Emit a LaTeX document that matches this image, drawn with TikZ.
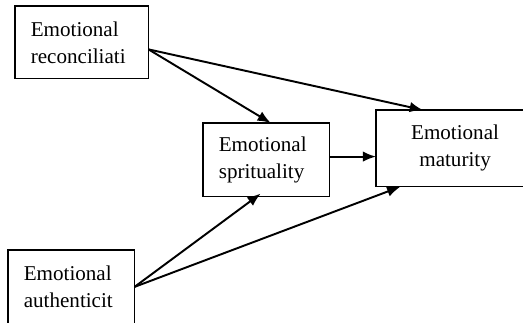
\documentclass[tikz,border=0pt]{standalone}
\usepackage{fontspec}
\setmainfont{Liberation Serif}
\usetikzlibrary{arrows.meta}
\tikzset{varbox/.style={
		draw, line width=0.75pt, anchor=north west, outer sep=0pt,
		inner xsep=9pt, inner ysep=0pt, align=left,
		font=\fontsize{12}{15.3}\selectfont}
}
\tikzset{path link/.style={
		line width=1.1pt, -{Latex[length=7.5pt,width=6pt]}}
}
\begin{document}
\begin{tikzpicture}[x=0.02cm, y=-0.02cm]
  \clip (0,0) rectangle (523,322);

  \node[varbox, text width=58pt, minimum height=41.4pt] (rec) at (15,6) {Emotional\\reconciliati};
  \node[varbox, text width=54pt, minimum height=42pt] (spi) at (203,123) {Emotional\\sprituality};
  \node[varbox, text width=72pt, minimum height=43.7pt, align=center] (mat) at (376,110) {Emotional\\maturity};
  \node[varbox, text width=54pt, minimum height=42pt] (aut) at (8,250) {Emotional\\authenticit};

  \draw[path link] (rec.-6) -- (spi.83);
  \draw[path link] (rec.-6) -- (mat.130);
  \draw[path link] (spi.3.6) -- (spi.3.6 -| mat.west);
  \draw[path link, shorten >=-3pt] (aut.east) -- (spi.-105);
  \draw[path link] (aut.east) -- (mat.-145);
\end{tikzpicture}
\end{document}
